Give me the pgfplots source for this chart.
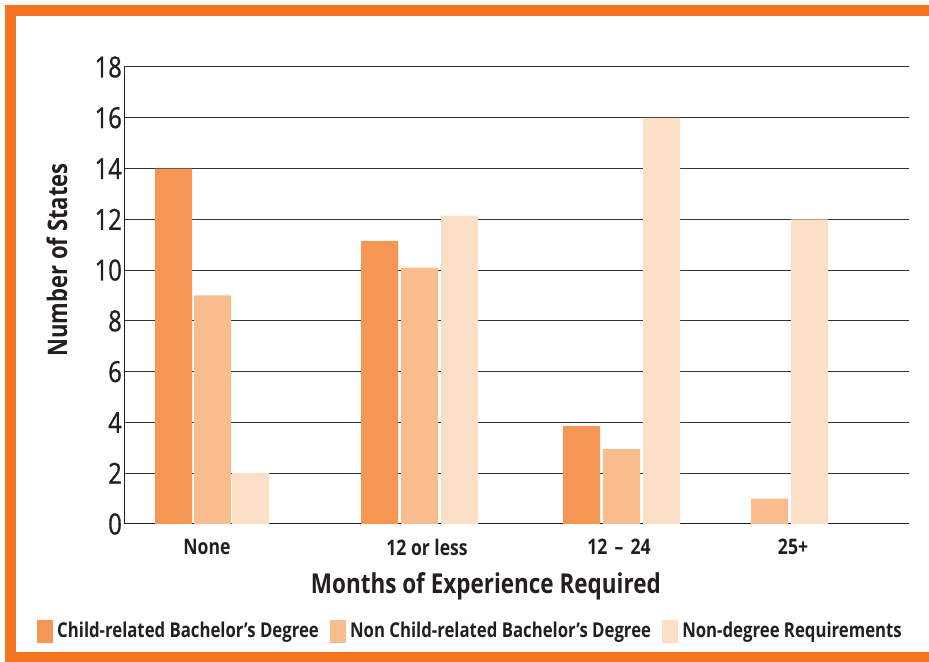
\documentclass[border=0pt]{standalone}
\usepackage{pgfplots}
\pgfplotsset{compat=1.18}
\usepackage{fontspec}
\setmainfont{Open Sans}[FakeStretch=0.82]
\newfontfamily\tickfont{Open Sans}[FakeStretch=0.82, FakeBold=1]
\definecolor{c1}{HTML}{F59654}
\definecolor{c2}{HTML}{F9BC8C}
\definecolor{c3}{HTML}{FCDFC7}
\definecolor{frame}{HTML}{F47521}
\definecolor{txt}{HTML}{231F20}
\begin{document}
\begin{tikzpicture}[x=1bp,y=1bp]
\path[use as bounding box] (0,0) rectangle (929,662);
\fill[frame] (5,657) rectangle (929,646);
\fill[frame] (5,0) rectangle (16,657);
\fill[frame] (5,0) rectangle (929,10);
\begin{axis}[
  at={(124bp,138bp)}, anchor=south west,
  scale only axis, width=785bp, height=457bp,
  xmin=124, xmax=909, ymin=0, ymax=18,
  axis lines*=left,
  axis line style={txt, line width=1bp},
  ytick={0,2,...,18},
  xtick={207,427,619,793},
  xticklabels={None,12 or less,12\,\,–\,\,24,25+},
  ymajorgrids,
  major grid style={black!80, line width=1bp},
  major tick length=0pt,
  /pgf/number format/assume math mode=true,
  yticklabel style={font=\tickfont\fontsize{29}{29}\selectfont, text=txt, inner sep=2bp},
  xticklabel style={font=\bfseries\fontsize{21.5}{21.5}\selectfont, text=txt, inner sep=0pt, yshift=-15bp},
  xlabel={Months of Experience Required},
  xlabel style={at={(axis description cs:0.461,-0.1357)}, anchor=center, font=\bfseries\fontsize{27.5}{27.5}\selectfont, text=txt},
  ylabel={Number of States},
  ylabel style={at={(axis description cs:-0.0854,0.578)}, anchor=center, font=\bfseries\fontsize{27}{27}\selectfont, text=txt},
  legend columns=3,
  legend cell align=left,
  legend style={at={(axis description cs:-0.1108,-0.2341)}, anchor=west, draw=none, fill=none, inner sep=0pt, outer sep=0pt,
    font=\bfseries\fontsize{20.5}{20.5}\selectfont, text=txt,
    nodes={inner sep=0pt},
    /tikz/every even column/.append style={column sep=11bp}},
]
\addlegendimage{legend image code/.code={\fill[c1] (0bp,-11bp) rectangle (15bp,11bp); \path[draw=none] (0bp,0bp) -- (20bp,0bp);}}
\addlegendentry{Child-related Bachelor’s Degree}
\addlegendimage{legend image code/.code={\fill[c2] (0bp,-11bp) rectangle (15bp,11bp); \path[draw=none] (0bp,0bp) -- (20bp,0bp);}}
\addlegendentry{Non Child-related Bachelor’s Degree}
\addlegendimage{legend image code/.code={\fill[c3] (0bp,-11bp) rectangle (15bp,11bp); \path[draw=none] (0bp,0bp) -- (20bp,0bp);}}
\addlegendentry{Non-degree Requirements}
\addplot[ybar, bar width=37, bar shift=0pt, fill=c1, draw=none, forget plot] coordinates {(173.5,14) (379.5,11.15) (581.5,3.85)};
\addplot[ybar, bar width=37, bar shift=0pt, fill=c2, draw=none, forget plot] coordinates {(212.5,9) (419.5,10.1) (621.5,2.95) (769.5,1)};
\addplot[ybar, bar width=37, bar shift=0pt, fill=c3, draw=none, forget plot] coordinates {(250.5,2) (459.5,12.15) (661.5,16) (809.5,12)};
\end{axis}
\end{tikzpicture}
\end{document}
